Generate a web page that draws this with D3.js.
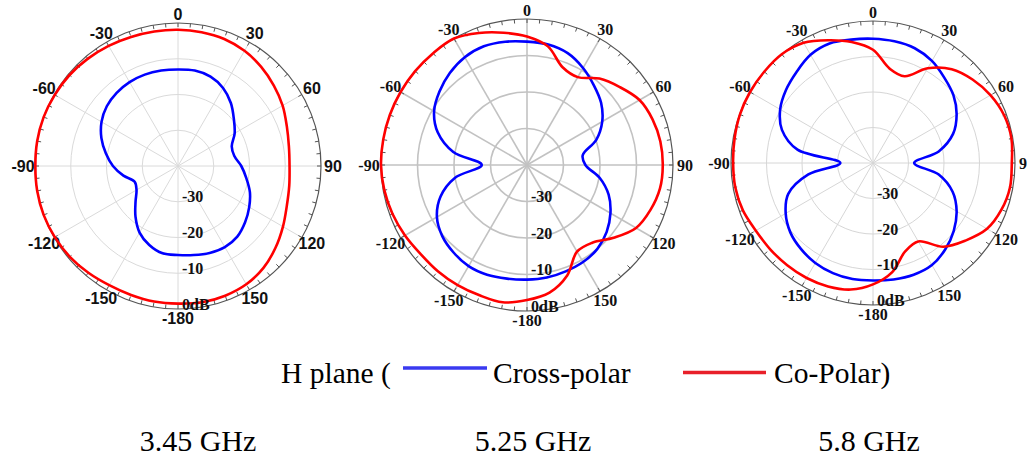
<!DOCTYPE html>
<html>
<head>
<meta charset="utf-8">
<script src="https://cdn.jsdelivr.net/npm/d3@7"></script>
<style>
  body { margin: 0; background: #fff; }
  svg { display: block; }
</style>
</head>
<body>
<svg id="chart" width="1027" height="459"></svg>
<script>
// measured angles (deg, clockwise from top)
const angles = [0, 10, 20, 30, 40, 50, 60, 70, 80, 90, 100, 110, 120, 130, 140, 150, 160, 170,
                180, 190, 200, 210, 220, 230, 240, 250, 260, 270, 280, 290, 300, 310, 320, 330, 340, 350];

// 3.45 GHz
const cross345 = [-13.0, -12.9, -13.4, -14.8, -17.0, -19.6, -21.7, -24.0, -24.0, -22.3, -20.6, -18.6,
                  -17.0, -15.5, -14.2, -13.8, -14.1, -14.7, -15.1, -15.2, -16.5, -18.5, -21.5, -24.5,
                  -26.6, -27.1, -24.5, -21.8, -19.5, -17.2, -15.3, -14.0, -13.3, -12.9, -12.8, -12.9];
const co345 = [-1.9, -2.0, -2.2, -2.8, -3.8, -5.0, -6.2, -7.6, -8.5, -8.8, -8.4, -7.6,
               -6.1, -4.4, -2.8, -1.8, -1.4, -1.3, -1.5, -1.5, -1.6, -1.5, -1.0, -0.5,
               -0.2, 0, 0, -0.1, 0, 0, -0.2, -0.4, -0.8, -1.2, -1.6, -1.8];

// 5.25 GHz
const cross525 = [-6.2, -6.5, -7.4, -9.3, -11.5, -13.5, -16.2, -19.8, -24.5, -24.0, -19.8, -16.2,
                  -13.6, -11.5, -10.0, -9.3, -9.0, -8.7, -8.6, -8.4, -8.0, -8.0, -8.7, -9.7,
                  -11.5, -14.8, -20.0, -27.6, -19.5, -14.0, -10.6, -8.7, -7.1, -5.9, -5.4, -5.7];
const co525 = [-4.8, -7.0, -11.5, -12.2, -9.1, -6.8, -4.4, -3.4, -2.9, -2.8, -3.0, -4.0,
               -5.5, -9.0, -12.2, -12.6, -7.8, -4.5, -3.0, -1.8, -2.0, -2.0, -2.0, -2.0,
               -1.4, -0.8, -0.3, 0, 0, 0, 0, 0, 0, 0, -1.5, -3.2];

// 5.8 GHz
const cross58 = [-5.0, -5.2, -5.6, -6.8, -8.7, -10.4, -12.8, -16.0, -21.2, -28.4, -21.2, -16.1,
                 -12.8, -10.3, -8.3, -6.8, -6.5, -6.7, -6.9, -6.8, -7.0, -7.5, -8.4, -9.6,
                 -11.6, -14.6, -21.5, -30.8, -18.4, -12.7, -9.8, -8.0, -6.5, -4.8, -4.2, -4.7];
const co58 = [-8.1, -13.0, -14.0, -9.2, -5.5, -3.4, -1.8, -0.7, -0.4, -0.9, -0.8, -1.5,
              -2.9, -6.0, -9.2, -14.5, -13.5, -8.8, -5.8, -3.8, -3.0, -2.6, -2.4, -2.2,
              -1.9, -1.0, -0.6, -0.6, -0.4, -0.1, 0, 0, 0, -0.9, -3.2, -5.4];

const angleTicks = [0, 30, 60, 90, 120, 150, 180, 210, 240, 270, 300, 330];
const angleTickLabels = ["0", "30", "60", "90", "120", "150", "-180", "-150", "-120", "-90", "-60", "-30"];
const dbTicks = [-30, -20, -10, 0];
const dbTickLabels = ["-30", "-20", "-10", "0dB"];
const freqLabels = ["3.45 GHz", "5.25 GHz", "5.8 GHz"];
const legendLabels = ["H plane (", "Cross-polar", "Co-Polar)"];

const svg = d3.select("#chart");
const serif = "'Liberation Serif', 'Times New Roman', serif";
const sans = "'Liberation Sans', Arial, sans-serif";

const panels = [
  { cx: 178, cy: 166, R: 143, grid: "#dadada", gw: 1, font: sans, cross: cross345, co: co345 },
  { cx: 527, cy: 165, R: 146, grid: "#c2c2c2", gw: 1.6, font: serif, cross: cross525, co: co525 },
  { cx: 873, cy: 163, R: 142, grid: "#d6d6d6", gw: 1, font: serif, cross: cross58, co: co58 }
];

panels.forEach(p => {
  const g = svg.append("g").attr("transform", `translate(${p.cx},${p.cy})`);
  const r = d3.scaleLinear().domain([-40, 0]).range([0, p.R]);
  const a = d3.scaleLinear().domain([0, 360]).range([0, 2 * Math.PI]);
  const px = (deg, rad) => rad * Math.sin(a(deg));
  const py = (deg, rad) => -rad * Math.cos(a(deg));
  // labels sit a bit further out at the sides than at top/bottom
  const lr = deg => p.R + 9 + 3 * Math.abs(Math.sin(a(deg)));

  // grid rings
  g.selectAll(".ring")
    .data(dbTicks.slice(0, 3))
    .enter().append("circle")
    .attr("r", d => r(d))
    .attr("fill", "none")
    .attr("stroke", p.grid)
    .attr("stroke-width", p.gw);

  // spokes
  g.selectAll(".spoke")
    .data(angleTicks)
    .enter().append("line")
    .attr("x1", 0).attr("y1", 0)
    .attr("x2", d => px(d, p.R)).attr("y2", d => py(d, p.R))
    .attr("stroke", p.grid)
    .attr("stroke-width", p.gw);

  // outer ring with small ticks
  g.append("circle")
    .attr("r", p.R)
    .attr("fill", "none")
    .attr("stroke", "#555")
    .attr("stroke-width", 1.2);

  g.selectAll(".tick")
    .data(d3.range(0, 360, 5))
    .enter().append("line")
    .attr("x1", d => px(d, p.R)).attr("y1", d => py(d, p.R))
    .attr("x2", d => px(d, p.R - 4)).attr("y2", d => py(d, p.R - 4))
    .attr("stroke", "#555")
    .attr("stroke-width", 1);

  // angle labels
  g.selectAll(".alab")
    .data(angleTicks)
    .enter().append("text")
    .attr("x", d => px(d, lr(d)))
    .attr("y", d => py(d, lr(d)))
    .attr("text-anchor", "middle")
    .attr("dominant-baseline", "central")
    .attr("font-family", p.font)
    .attr("font-weight", "bold")
    .attr("font-size", 16)
    .attr("fill", "#111")
    .text((d, i) => angleTickLabels[i]);

  // traces
  const line = d3.lineRadial()
    .angle(d => a(d[0]))
    .radius(d => r(Math.min(0, d[1])))
    .curve(d3.curveCatmullRomClosed.alpha(0.5));

  g.append("path")
    .attr("d", line(angles.map((ang, i) => [ang, p.cross[i]])))
    .attr("fill", "none")
    .attr("stroke", "#0000ff")
    .attr("stroke-width", 2.6);

  g.append("path")
    .attr("d", line(angles.map((ang, i) => [ang, p.co[i]])))
    .attr("fill", "none")
    .attr("stroke", "#ff0000")
    .attr("stroke-width", 2.6);

  // dB labels
  g.selectAll(".dblab")
    .data(dbTicks)
    .enter().append("text")
    .attr("x", 4)
    .attr("y", d => r(d) - 5)
    .attr("dominant-baseline", "central")
    .attr("font-family", serif)
    .attr("font-weight", "bold")
    .attr("font-size", 16)
    .attr("fill", "#111")
    .text((d, i) => dbTickLabels[i]);
});

// legend
const leg = svg.append("g")
  .attr("font-family", serif)
  .attr("font-size", 29.5)
  .attr("fill", "#000");
leg.append("text").attr("x", 281).attr("y", 383).text(legendLabels[0]);
leg.append("line").attr("x1", 403).attr("x2", 487).attr("y1", 368).attr("y2", 368)
  .attr("stroke", "#3a3af0").attr("stroke-width", 3.5);
leg.append("text").attr("x", 493).attr("y", 383).text(legendLabels[1]);
leg.append("line").attr("x1", 683).attr("x2", 766).attr("y1", 372.5).attr("y2", 372.5)
  .attr("stroke", "#e8202a").attr("stroke-width", 3.5);
leg.append("text").attr("x", 774).attr("y", 383).text(legendLabels[2]);

// frequency captions
const capX = [198, 533, 869];
svg.selectAll(".cap")
  .data(freqLabels)
  .enter().append("text")
  .attr("x", (d, i) => capX[i])
  .attr("y", 451)
  .attr("text-anchor", "middle")
  .attr("font-family", serif)
  .attr("font-size", 30)
  .attr("fill", "#000")
  .text(d => d);
</script>
</body>
</html>
